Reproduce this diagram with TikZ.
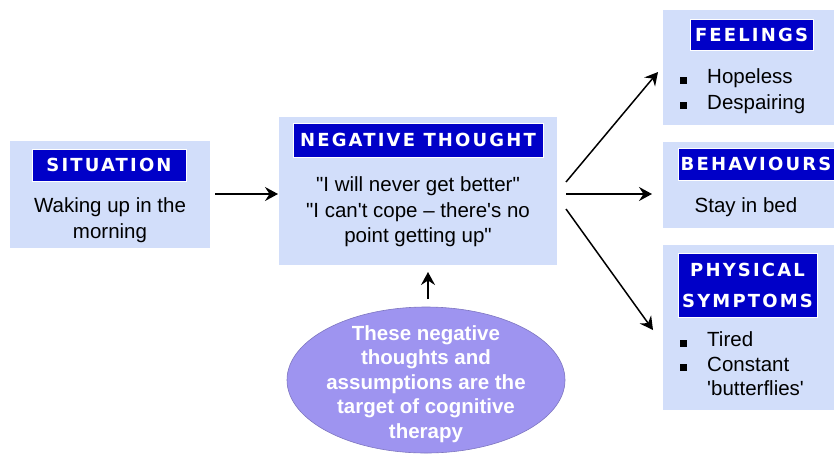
\documentclass[tikz,border=0pt]{standalone}
\usepackage{fontspec}
\setmainfont{Liberation Sans}
\newfontfamily\headfont[LetterSpace=12]{DejaVu Sans}
\usetikzlibrary{arrows.meta,shapes.geometric}

\definecolor{panelblue}{RGB}{210,222,250}
\definecolor{barblue}{RGB}{0,0,200}
\definecolor{ovalblue}{RGB}{158,148,240}
\newcommand{\sq}{\rule{7pt}{7pt}}
\newcommand{\dq}{\textquotedbl}

\tikzset{
  panel/.style={fill=panelblue, draw=none, inner sep=0pt},
  titlebar/.style={fill=barblue, draw=white, line width=0.8pt, text=white,
    font=\headfont\bfseries\fontsize{18}{31}\selectfont, align=center, inner sep=0pt},
  body/.style={font=\fontsize{20.5}{25.5}\selectfont, align=center, inner sep=0pt},
  flow/.style={-{Stealth[length=13pt,width=14pt,inset=4.5pt]}, line width=1.8pt, black}
}

\begin{document}
\begin{tikzpicture}[x=1pt, y=-1pt]
\useasboundingbox (0,0) rectangle (834,456);

% situation
\node[panel, minimum width=200pt, minimum height=107pt] (sit) at (110,194.5) {};
\node[titlebar, minimum width=154pt, minimum height=32pt] (sittitle) at (109,165) {SITUATION};
\node[body] (sittext) at (110,220) {Waking up in the\\morning};

% negative thought
\node[panel, minimum width=278pt, minimum height=148pt] (neg) at (418,191) {};
\node[titlebar, minimum width=250pt, minimum height=34pt] (negtitle) at (418,140) {NEGATIVE THOUGHT};
\node[body] (negtext) at (418,212) {\dq I will never get better\dq\\\dq I can\textquotesingle t cope – there\textquotesingle s no\\point getting up\dq};

% feelings
\node[panel, minimum width=171pt, minimum height=115pt] (feel) at (748.5,67.5) {};
\node[titlebar, minimum width=123pt, minimum height=31pt] (feeltitle) at (751.5,34.5) {FEELINGS};
\node[body, align=left, anchor=west] (feeltext) at (680,91) {\sq\hspace{20pt}Hopeless\\\sq\hspace{20pt}Despairing};

% behaviours
\node[panel, minimum width=171pt, minimum height=86pt] (beh) at (748.5,185) {};
\node[titlebar, minimum width=156pt, minimum height=32pt] (behtitle) at (756,164) {BEHAVIOURS};
\node[body] (behtext) at (746,207) {Stay in bed};

% physical symptoms
\node[panel, minimum width=171pt, minimum height=165pt] (phys) at (748.5,327.5) {};
\node[titlebar, minimum width=139pt, minimum height=64pt] (phystitle) at (747.5,285) {PHYSICAL\\SYMPTOMS};
\node[body, align=left, anchor=west] (phystext) at (680,366) {%
  \begin{tabular}{@{}l@{\hspace{20pt}}l@{}}
  \sq & Tired\\[-1pt]
  \sq & Constant\\[-1pt]
      & \textquotesingle butterflies\textquotesingle
  \end{tabular}};

% target of therapy
\node[ellipse, fill=ovalblue, draw=ovalblue!80!black, line width=0.6pt,
  minimum width=278pt, minimum height=146pt, inner sep=0pt] (oval) at (426,380) {};
\node[text=white, font=\bfseries\fontsize{20.5}{24.5}\selectfont, align=center,
  inner sep=0pt] (ovaltext) at (426,384)
  {These negative\\thoughts and\\assumptions are the\\target of cognitive\\therapy};

% arrow ends
\coordinate (sitout) at (215,194);
\coordinate (negin) at (278,194);
\coordinate (fan1) at (566,182);
\coordinate (fan2) at (566,194);
\coordinate (fan3) at (566,209);
\coordinate (feelin) at (658,72);
\coordinate (behin) at (652,194);
\coordinate (physin) at (653,330);
\coordinate (ovalout) at (428,299);
\coordinate (negbot) at (428,272);

% arrows
\draw[flow] (sitout) -- (negin);
\draw[flow, line width=1.5pt] (fan1) -- (feelin);
\draw[flow] (fan2) -- (behin);
\draw[flow, line width=1.5pt] (fan3) -- (physin);
\draw[flow] (ovalout) -- (negbot);
\end{tikzpicture}
\end{document}
